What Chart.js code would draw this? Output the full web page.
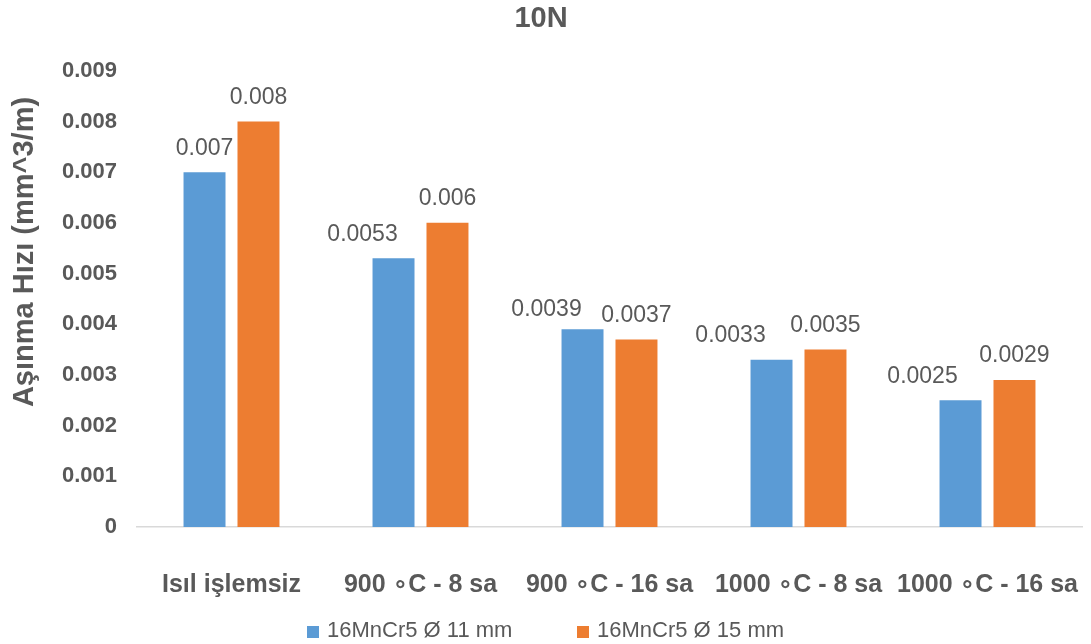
<!DOCTYPE html>
<html>
<head>
<meta charset="utf-8">
<script src="https://cdn.jsdelivr.net/npm/chart.js@4.4.1/dist/chart.umd.min.js"></script>
<style>
  html, body { margin: 0; padding: 0; background: #fff; }
  #wrap { width: 1091px; height: 644px; position: relative; }
</style>
</head>
<body>
<div id="wrap"><canvas id="wearChart"></canvas></div>
<script>
const categories = ["Isıl işlemsiz", "900 ∘C - 8 sa", "900 ∘C - 16 sa", "1000 ∘C - 8 sa", "1000 ∘C - 16 sa"];
const seriesNames = ["16MnCr5 Ø 11 mm", "16MnCr5 Ø 15 mm"];
const d11 = [0.007, 0.0053, 0.0039, 0.0033, 0.0025];
const d15 = [0.008, 0.006, 0.0037, 0.0035, 0.0029];
const labels11 = ["0.007", "0.0053", "0.0039", "0.0033", "0.0025"];
const labels15 = ["0.008", "0.006", "0.0037", "0.0035", "0.0029"];

const BLUE = "#5B9BD5";
const ORANGE = "#ED7D31";
const TEXT = "#595959";
const FONT = "'Liberation Sans', Arial, 'DejaVu Sans', sans-serif";

// label nudges (px), the blue labels sit a bit left of their bars in the original
const labelShift = [
  { dx: [0, -31, -36, -41, -38], dy: [-24, -24, -20, -24, -24] },
  { dx: [0, 0, 0, 0, 0], dy: [-24, -24, -24, -24, -24] }
];
const labelText = [labels11, labels15];

const valueLabels = {
  id: "valueLabels",
  afterDatasetsDraw(chart) {
    const ctx = chart.ctx;
    ctx.save();
    ctx.font = "23px " + FONT;
    ctx.fillStyle = TEXT;
    ctx.textAlign = "center";
    ctx.textBaseline = "middle";
    chart.data.datasets.forEach((ds, di) => {
      chart.getDatasetMeta(di).data.forEach((bar, i) => {
        ctx.fillText(labelText[di][i], bar.x + labelShift[di].dx[i], bar.y + labelShift[di].dy[i]);
      });
    });
    ctx.restore();
  }
};

const extras = {
  id: "extras",
  afterDraw(chart) {
    const ctx = chart.ctx;
    ctx.save();
    // y axis title
    ctx.translate(33, 252);
    ctx.rotate(-Math.PI / 2);
    ctx.font = "bold 29px " + FONT;
    ctx.fillStyle = TEXT;
    ctx.textAlign = "center";
    ctx.textBaseline = "alphabetic";
    ctx.fillText("Aşınma Hızı (mm^3/m)", 0, 0);
    ctx.restore();

    // legend
    ctx.save();
    ctx.font = "22px " + FONT;
    ctx.textBaseline = "alphabetic";
    ctx.textAlign = "left";
    const items = [
      { x: 307, color: BLUE, text: seriesNames[0] },
      { x: 577, color: ORANGE, text: seriesNames[1] }
    ];
    items.forEach(it => {
      ctx.fillStyle = it.color;
      ctx.fillRect(it.x, 626, 12, 12);
      ctx.fillStyle = TEXT;
      ctx.fillText(it.text, it.x + 20, 637);
    });
    ctx.restore();
  }
};

new Chart(document.getElementById("wearChart"), {
  type: "bar",
  data: {
    labels: categories,
    datasets: [
      {
        label: seriesNames[0],
        data: d11,
        backgroundColor: BLUE,
        categoryPercentage: 0.571,
        barPercentage: 0.778
      },
      {
        label: seriesNames[1],
        data: d15,
        backgroundColor: ORANGE,
        categoryPercentage: 0.571,
        barPercentage: 0.778
      }
    ]
  },
  options: {
    responsive: true,
    maintainAspectRatio: false,
    animation: false,
    layout: { padding: { left: 0, right: 9, top: 0, bottom: 27 } },
    plugins: {
      legend: { display: false },
      tooltip: { enabled: false },
      title: {
        display: true,
        text: "10N",
        color: TEXT,
        font: { family: FONT, size: 29, weight: "bold" },
        padding: { top: 2, bottom: 34 }
      }
    },
    scales: {
      x: {
        grid: { display: false, drawTicks: false },
        border: { display: true, color: "#d9d9d9", width: 1.5 },
        ticks: {
          color: TEXT,
          font: { family: FONT, size: 25, weight: "bold" },
          padding: 43,
          maxRotation: 0,
          autoSkip: false
        },
        afterFit(scale) {
          scale.height = 90;
          scale.paddingLeft = 0;
          scale.paddingRight = 0;
        }
      },
      y: {
        min: 0,
        max: 0.009,
        grid: { display: false, drawTicks: false },
        border: { display: false },
        ticks: {
          stepSize: 0.001,
          color: TEXT,
          font: { family: FONT, size: 22, weight: "bold" },
          padding: 20,
          callback: v => (Math.abs(v) < 1e-9 ? "0" : v.toFixed(3))
        },
        afterFit(scale) {
          scale.width = 137;
          scale.paddingTop = 0;
          scale.paddingBottom = 0;
        }
      }
    }
  },
  plugins: [valueLabels, extras]
});
</script>
</body>
</html>
